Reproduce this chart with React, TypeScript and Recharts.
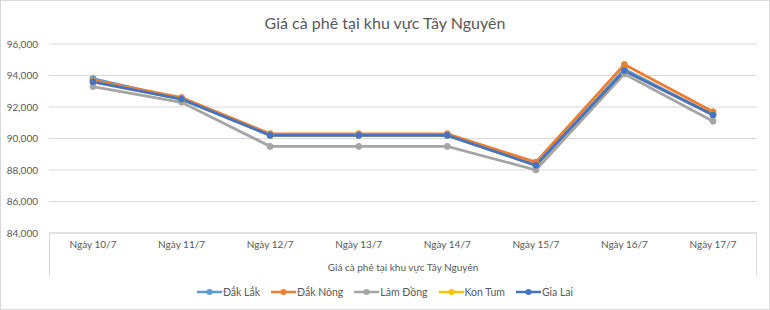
import React from "react";
import { LineChart, Line, XAxis, YAxis, CartesianGrid, Legend } from "recharts";

const categories = ["Ngày 10/7", "Ngày 11/7", "Ngày 12/7", "Ngày 13/7", "Ngày 14/7", "Ngày 15/7", "Ngày 16/7", "Ngày 17/7"];
const dakLak = [93800, 92500, 90200, 90200, 90200, 88300, 94400, 91500];
const dakNong = [93700, 92600, 90300, 90300, 90300, 88500, 94700, 91700];
const lamDong = [93300, 92300, 89500, 89500, 89500, 88000, 94100, 91100];
const konTum = [93600, 92500, 90200, 90200, 90200, 88300, 94300, 91500];
const giaLai = [93600, 92500, 90200, 90200, 90200, 88300, 94300, 91500];
const yTicks = [84000, 86000, 88000, 90000, 92000, 94000, 96000];

const seriesNames = ["Đắk Lắk", "Đắk Nông", "Lâm Đồng", "Kon Tum", "Gia Lai"];
const seriesValues = [dakLak, dakNong, lamDong, konTum, giaLai];
const colors = ["#5B9BD5", "#ED7D31", "#A5A5A5", "#FFC000", "#4472C4"];

const title = "Giá cà phê tại khu vực Tây Nguyên";
const axisTitle = "Giá cà phê tại khu vực Tây Nguyên";

const data = categories.map((c, i) => {
  const row: Record<string, string | number> = { name: c };
  seriesNames.forEach((s, k) => {
    row[s] = seriesValues[k][i];
  });
  return row;
});

const FONT = "Lato, 'Open Sans', sans-serif";
const TEXT = "#595959";

const fmt = (v: number) => v.toLocaleString("en-US");

const AxisLabel = (props: any) => {
  const vb = props.viewBox || {};
  const x = vb.x ?? 0;
  const y = vb.y ?? 0;
  const w = vb.width ?? 0;
  return (
    <g>
      <line x1={x + 0.5} y1={y} x2={x + 0.5} y2={y + 42} stroke="#d9d9d9" strokeWidth={1} />
      <line x1={x + w - 0.5} y1={y} x2={x + w - 0.5} y2={y + 42} stroke="#d9d9d9" strokeWidth={1} />
      <text x={x + w / 2} y={y + 38} textAnchor="middle" fontSize={10} fill={TEXT} fontFamily={FONT}>
        {axisTitle}
      </text>
    </g>
  );
};

const LegendContent = () => (
  <div style={{ display: "flex", justifyContent: "center", fontFamily: FONT, fontSize: 10.5, color: TEXT }}>
    {seriesNames.map((s, i) => (
      <div key={s} style={{ display: "flex", alignItems: "center", marginRight: i < seriesNames.length - 1 ? 11 : 0 }}>
        <svg width={25} height={10} style={{ marginRight: 1 }}>
          <line x1={0} y1={5} x2={25} y2={5} stroke={colors[i]} strokeWidth={2.5} />
          <circle cx={12.5} cy={5} r={3} fill={colors[i]} />
        </svg>
        <span>{s}</span>
      </div>
    ))}
  </div>
);

export default function App() {
  return (
    <div
      style={{
        position: "fixed",
        left: 0,
        top: 0,
        width: 770,
        height: 310,
        boxSizing: "border-box",
        border: "1px solid #d9d9d9",
        background: "#fff",
      }}
    >
      <LineChart
        width={768}
        height={308}
        data={data}
        margin={{ top: 43, right: 12, left: 6, bottom: 32 }}
      >
        <text x={384} y={28} textAnchor="middle" fontSize={16} fill={TEXT} fontFamily={FONT}>
          {title}
        </text>
        <CartesianGrid horizontal={true} vertical={false} stroke="#d9d9d9" strokeWidth={1} />
        <XAxis
          dataKey="name"
          height={44}
          tickSize={0}
          tickMargin={8}
          axisLine={{ stroke: "#d9d9d9" }}
          tick={{ fontSize: 10, fill: TEXT, fontFamily: FONT }}
          padding={{ left: 44, right: 44 }}
          interval={0}
          label={<AxisLabel />}
        />
        <YAxis
          width={42}
          domain={[84000, 96000]}
          ticks={yTicks}
          tickFormatter={fmt}
          axisLine={false}
          tickLine={false}
          tickSize={0}
          tickMargin={11}
          tick={{ fontSize: 10, fill: TEXT, fontFamily: FONT }}
        />
        <Legend
          verticalAlign="middle"
          align="center"
          layout="horizontal"
          content={<LegendContent />}
          wrapperStyle={{ top: 285, left: 0, width: 768 }}
        />
        {seriesNames.map((s, i) => (
          <Line
            key={s}
            dataKey={s}
            stroke={colors[i]}
            strokeWidth={2.8}
            dot={{ r: 3, fill: colors[i], stroke: colors[i], strokeWidth: 1 }}
            activeDot={false}
            isAnimationActive={false}
          />
        ))}
      </LineChart>
    </div>
  );
}
